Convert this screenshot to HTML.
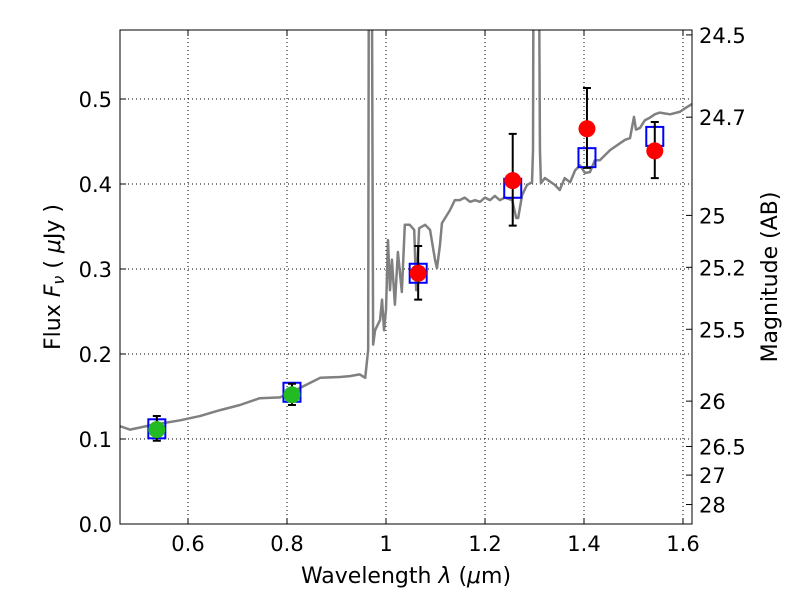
<!DOCTYPE html>
<html><head><meta charset="utf-8"><style>
body{margin:0;background:#fff}
svg{display:block;font-family:"DejaVu Sans","Liberation Sans",sans-serif}
</style></head><body>
<svg id="chart" width="800" height="600" viewBox="0 0 800 600">
<defs><clipPath id="clip"><rect x="120" y="30" width="572" height="494"/></clipPath></defs>
<rect width="800" height="600" fill="#fff"/>
<g id="grid"></g>
<g id="spec" clip-path="url(#clip)"></g>
<g id="pts"></g>
<rect x="120" y="30" width="572" height="494" fill="none" stroke="#000" stroke-width="1"/>
<g id="axes"></g>
<text x="406" y="583" font-size="22" text-anchor="middle">Wavelength  <tspan font-style="italic">λ</tspan> (<tspan font-style="italic">μ</tspan>m)</text>
<text transform="translate(60,277) rotate(-90)" font-size="22" text-anchor="middle">Flux  <tspan font-style="italic">F</tspan><tspan font-style="italic" font-size="16" dy="4">ν</tspan><tspan dy="-4">  ( </tspan><tspan font-style="italic">μ</tspan>Jy )</text>
<text transform="translate(777,277) rotate(-90)" font-size="22" text-anchor="middle">Magnitude (AB)</text>
</svg>
<script>
const specLam=[0.463,0.483,0.523,0.584,0.624,0.665,0.705,0.745,0.786,0.826,0.867,0.907,0.927,0.947,0.958,0.964,0.966,0.970,0.974,0.978,0.988,0.992,0.996,1.000,1.004,1.008,1.012,1.018,1.024,1.032,1.038,1.048,1.057,1.061,1.067,1.079,1.089,1.099,1.103,1.109,1.113,1.129,1.139,1.149,1.159,1.170,1.180,1.190,1.200,1.210,1.220,1.230,1.240,1.255,1.263,1.267,1.275,1.285,1.295,1.297,1.299,1.307,1.311,1.313,1.321,1.341,1.351,1.361,1.372,1.382,1.392,1.402,1.412,1.422,1.432,1.453,1.473,1.483,1.493,1.501,1.505,1.513,1.523,1.533,1.543,1.553,1.574,1.594,1.604,1.618];
const specFlux=[0.115,0.111,0.116,0.122,0.127,0.134,0.140,0.148,0.149,0.160,0.172,0.173,0.174,0.176,0.172,0.205,0.9,0.9,0.211,0.228,0.240,0.264,0.228,0.252,0.334,0.275,0.311,0.258,0.320,0.273,0.352,0.352,0.346,0.275,0.348,0.352,0.346,0.311,0.301,0.328,0.354,0.369,0.381,0.381,0.384,0.379,0.381,0.379,0.384,0.381,0.386,0.381,0.384,0.381,0.360,0.360,0.387,0.399,0.402,0.440,0.9,0.9,0.440,0.401,0.407,0.399,0.393,0.407,0.402,0.416,0.422,0.413,0.414,0.428,0.428,0.440,0.448,0.452,0.454,0.479,0.464,0.466,0.475,0.478,0.482,0.484,0.482,0.485,0.489,0.494];
const modelLam=[0.537,0.810,1.065,1.256,1.406,1.543];
const modelFlux=[0.112,0.155,0.295,0.395,0.431,0.456];
const obsLam=[0.537,0.810,1.065,1.256,1.406,1.543];
const obsFlux=[0.111,0.152,0.295,0.404,0.465,0.439];
const obsLo=[0.098,0.140,0.264,0.351,0.419,0.407];
const obsHi=[0.127,0.165,0.327,0.459,0.513,0.473];
const obsColor=['#22bb22','#22bb22','red','red','red','red'];
const xTicks=[0.6,0.8,1.0,1.2,1.4,1.6];
const xTickLabels=['0.6','0.8','1','1.2','1.4','1.6'];
const yTicks=[0,0.1,0.2,0.3,0.4,0.5];
const yTickLabels=['0.0','0.1','0.2','0.3','0.4','0.5'];
const magTicks=[24.5,24.7,25,25.2,25.5,26,26.5,27,28];
const magTickLabels=['24.5','24.7','25','25.2','25.5','26','26.5','27','28'];
const X0=120,X1=692,Y0=524,Y1=30,LMIN=0.4626,LMAX=1.6182,FMIN=0,FMAX=0.5812;
const xs=l=>X0+(l-LMIN)/(LMAX-LMIN)*(X1-X0);
const ys=f=>Y0-(f-FMIN)/(FMAX-FMIN)*(Y0-Y1);
const NS='http://www.w3.org/2000/svg';
function mk(tag,attrs,parent){const e=document.createElementNS(NS,tag);for(const k in attrs)e.setAttribute(k,attrs[k]);parent.appendChild(e);return e;}
const grid=document.getElementById('grid'),axes=document.getElementById('axes');
xTicks.forEach((t,i)=>{const x=xs(t);
 let g=mk('line',{x1:x,x2:x,y1:Y1,y2:Y0,stroke:'#000','stroke-width':1,'stroke-dasharray':'1,3'},grid);
 
 mk('line',{x1:x,x2:x,y1:Y0,y2:Y0-6,stroke:'#000'},axes);mk('line',{x1:x,x2:x,y1:Y1,y2:Y1+6,stroke:'#000'},axes);
 let tx=mk('text',{x:x,y:Y0+27,'font-size':21,'text-anchor':'middle'},axes);tx.textContent=xTickLabels[i];
 });
yTicks.forEach((t,i)=>{const y=ys(t);
 if(t>0){let g=mk('line',{x1:X0,x2:X1,y1:y,y2:y,stroke:'#000','stroke-width':1,'stroke-dasharray':'1,3'},grid);
 }
 mk('line',{x1:X0,x2:X0+6,y1:y,y2:y,stroke:'#000'},axes);
 let tx=mk('text',{x:X0-8,y:y+8,'font-size':21,'text-anchor':'end'},axes);tx.textContent=yTickLabels[i];
 });
magTicks.forEach((m,i)=>{const y=ys(Math.pow(10,(23.9-m)/2.5));
 mk('line',{x1:X1,x2:X1-6,y1:y,y2:y,stroke:'#000'},axes);
 let tx=mk('text',{x:X1+7,y:y+8,'font-size':21},axes);tx.textContent=magTickLabels[i];
 });
const spec=document.getElementById('spec');
let p=mk('polyline',{points:specLam.map((l,i)=>xs(l)+','+ys(specFlux[i])).join(' '),fill:'none',stroke:'#808080','stroke-width':2.5,'stroke-linejoin':'round'},spec);

const pts=document.getElementById('pts');
modelLam.forEach((l,i)=>{const x=xs(l),y=ys(modelFlux[i]);
 let r=mk('rect',{x:x-8.5,y:y-9.5,width:17,height:19,fill:'none',stroke:'blue','stroke-width':2},pts);
 });
obsLam.forEach((l,i)=>{const x=xs(l),y=ys(obsFlux[i]),lo=ys(obsLo[i]),hi=ys(obsHi[i]);
 let e=mk('path',{d:`M${x},${lo}V${hi}M${x-4},${lo}H${x+4}M${x-4},${hi}H${x+4}`,stroke:'#000','stroke-width':2,fill:'none'},pts);
 
 let c=mk('circle',{cx:x,cy:y,r:8.5,fill:obsColor[i]},pts);
 });
</script>
</body></html>
